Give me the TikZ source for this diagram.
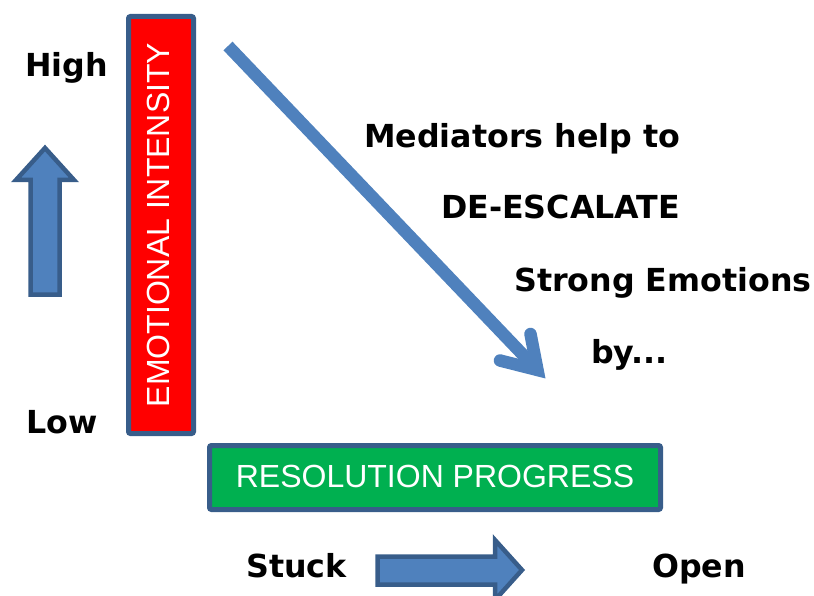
\documentclass[tikz,border=0pt]{standalone}
\usepackage{fontspec}
\setmainfont{Liberation Sans}
\newfontfamily\headfont{DejaVu Sans}
\definecolor{accentblue}{HTML}{4F81BD}
\definecolor{edgeblue}{HTML}{385D8A}
\definecolor{barred}{HTML}{FF0000}
\definecolor{bargreen}{HTML}{00B050}
\begin{document}
\begin{tikzpicture}[x=1pt,y=-1pt,
  label/.style={inner sep=0pt, anchor=base west, font=\headfont\bfseries\fontsize{31.7}{36}\selectfont},
  bartext/.style={inner sep=0pt, text=white, font=\fontsize{32}{38}\selectfont},
  barbox/.style={draw=edgeblue, line width=5pt, rounded corners=2pt},
  blockarrow/.style={fill=accentblue, draw=edgeblue, line width=4.5pt, line join=miter},
  flowline/.style={draw=accentblue, line width=12.5pt}]
\useasboundingbox (0,0) rectangle (814,596);

% vertical axis bar
\filldraw[barbox, fill=barred] (128.5,16.5) rectangle (193.5,433.5);
\node[bartext, rotate=90] (emo) at (158.5,225) {EMOTIONAL INTENSITY};

% horizontal axis bar
\filldraw[barbox, fill=bargreen] (209.5,445.5) rectangle (660.5,509.5);
\node[bartext] (res) at (435,476) {RESOLUTION PROGRESS};

% axis labels
\node[label] (high) at (25,77) {High};
\node[label] (low) at (26,433) {Low};
\node[label] (stuck) at (246,577) {Stuck};
\node[label] (open) at (652,577) {Open};

% block arrows
\draw[blockarrow] (30.5,294.5) -- (30.5,180) -- (16,180) -- (45,148)
  -- (74,180) -- (59.5,180) -- (59.5,294.5) -- cycle;
\draw[blockarrow] (377.5,556.5) -- (495,556.5) -- (495,540) -- (522,570)
  -- (495,600) -- (495,584.5) -- (377.5,584.5) -- cycle;

% message
\node[label] (m1) at (364,148) {Mediators help to};
\node[label] (m2) at (441,219) {DE-ESCALATE};
\node[label] (m3) at (514,291) {Strong Emotions};
\node[label] (m4) at (591,363) {by...};

% de-escalation arrow
\coordinate (dstart) at (228,46);
\coordinate (dtip) at (537.5,370);
\coordinate (barbA) at (530.5,334);
\coordinate (barbB) at (500,360.5);
\draw[flowline, line cap=butt] (dstart) -- (dtip);
\draw[flowline, line cap=round, line join=miter, miter limit=10] (barbA) -- (dtip) -- (barbB);
\end{tikzpicture}
\end{document}
